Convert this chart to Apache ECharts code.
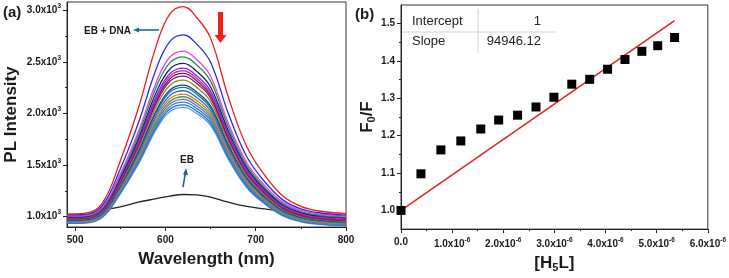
<!DOCTYPE html>
<html>
<head>
<meta charset="utf-8">
<script src="https://cdn.jsdelivr.net/npm/echarts@6/dist/echarts.min.js"></script>
<style>
html,body{margin:0;padding:0;background:#fff;}
#chart{width:729px;height:278px;}
</style>
</head>
<body>
<div id="chart"></div>
<script>
// (a) emission spectra, EB alone and EB + DNA with increasing H5L
var wavelengths = [491, 510, 530, 550, 570, 590, 605, 620, 635, 650, 670, 690, 710, 730, 750, 770, 800];
var ebOnly = [990, 1000, 1060, 1095, 1140, 1175, 1200, 1215, 1212, 1190, 1140, 1100, 1075, 1050, 1030, 1010, 990];
var ebDnaSpectra = [
  [1026, 1032, 1130, 1540, 2050, 2660, 2965, 3035, 2925, 2730, 2150, 1680, 1400, 1200, 1100, 1055, 1030],
  [1018, 1021, 1107, 1463, 1907, 2436, 2699, 2762, 2669, 2496, 1992, 1583, 1338, 1163, 1076, 1038, 1015],
  [1010, 1013, 1091, 1416, 1823, 2306, 2547, 2604, 2519, 2361, 1899, 1525, 1301, 1141, 1061, 1026, 1005],
  [1003, 1006, 1082, 1397, 1791, 2260, 2493, 2549, 2467, 2313, 1864, 1500, 1282, 1127, 1049, 1015, 995],
  [997, 1000, 1073, 1376, 1756, 2207, 2431, 2485, 2406, 2257, 1825, 1475, 1265, 1115, 1040, 1007, 988],
  [992, 995, 1066, 1361, 1730, 2168, 2387, 2439, 2362, 2218, 1796, 1456, 1252, 1106, 1033, 1001, 982],
  [987, 990, 1060, 1351, 1714, 2146, 2362, 2413, 2337, 2194, 1779, 1442, 1241, 1097, 1025, 994, 975],
  [982, 985, 1054, 1341, 1699, 2125, 2337, 2388, 2313, 2172, 1762, 1430, 1231, 1089, 1018, 986, 968],
  [978, 981, 1049, 1331, 1684, 2103, 2312, 2362, 2288, 2149, 1745, 1417, 1221, 1081, 1011, 980, 962],
  [973, 976, 1042, 1317, 1662, 2071, 2274, 2323, 2250, 2115, 1720, 1400, 1208, 1071, 1003, 973, 955],
  [968, 971, 1035, 1301, 1635, 2031, 2228, 2275, 2205, 2074, 1691, 1381, 1195, 1063, 996, 967, 950],
  [963, 966, 1029, 1292, 1621, 2012, 2207, 2253, 2184, 2054, 1676, 1370, 1187, 1056, 991, 962, 945],
  [958, 961, 1022, 1280, 1602, 1984, 2175, 2220, 2152, 2025, 1656, 1356, 1177, 1049, 985, 957, 940],
  [954, 956, 1017, 1269, 1583, 1957, 2144, 2188, 2122, 1998, 1635, 1342, 1167, 1042, 979, 951, 935],
  [950, 952, 1012, 1259, 1568, 1935, 2118, 2162, 2097, 1975, 1619, 1330, 1158, 1035, 973, 946, 930],
  [946, 948, 1007, 1249, 1553, 1913, 2093, 2136, 2072, 1952, 1602, 1319, 1149, 1028, 967, 941, 925],
  [942, 944, 1002, 1240, 1538, 1892, 2068, 2110, 2047, 1929, 1585, 1307, 1140, 1021, 962, 935, 920],
  [938, 940, 996, 1230, 1522, 1870, 2043, 2084, 2022, 1906, 1568, 1295, 1131, 1014, 956, 930, 915],
  [935, 937, 992, 1222, 1508, 1849, 2019, 2059, 1998, 1884, 1552, 1283, 1123, 1008, 950, 925, 910]
];
var spectraColors = ['#f01a1a', '#2a2ae6', '#f03cf0', '#139a3a', '#1a1a80', '#7b2ee0', '#c21fc2', '#8b1a2a', '#7a1a8a',
  '#8a8a10', '#1f3fb0', '#118080', '#2f6fd0', '#e07a1a', '#2aa84a', '#b04ae0', '#10a0a0', '#3a5ad8', '#4aa6d8'];
var aXTicks = [500, 600, 700, 800];
var aXMinor = [550, 650, 750];
var aYTicks = [1000, 1500, 2000, 2500, 3000];
var aYMinor = [1250, 1750, 2250, 2750];

// (b) Stern-Volmer plot
var h5lConc = [0, 0.39e-6, 0.78e-6, 1.17e-6, 1.56e-6, 1.91e-6, 2.28e-6, 2.64e-6, 2.99e-6, 3.34e-6, 3.69e-6, 4.04e-6, 4.38e-6, 4.71e-6, 5.02e-6, 5.35e-6];
var f0OverF = [1.000, 1.098, 1.162, 1.186, 1.218, 1.242, 1.255, 1.277, 1.303, 1.338, 1.351, 1.378, 1.404, 1.426, 1.441, 1.463];
var fitX = [0, 5.35e-6];
var fitY = [1, 1.508];
var bXTicks = [0, 1e-6, 2e-6, 3e-6, 4e-6, 5e-6, 6e-6];
var bXMinor = [0.5e-6, 1.5e-6, 2.5e-6, 3.5e-6, 4.5e-6, 5.5e-6];
var bYTicks = [1.0, 1.1, 1.2, 1.3, 1.4, 1.5];
var bYMinor = [1.05, 1.15, 1.25, 1.35, 1.45];

var FONT = '"Liberation Sans", Arial, sans-serif';
var INK = '#1a1a1a';

function pairs(xs, ys) {
  return xs.map(function (x, i) { return [x, ys[i]]; });
}

var labelRich = {
  m: {fontSize: 10, fontWeight: 'bold', color: INK, fontFamily: FONT},
  s: {fontSize: 6.5, fontWeight: 'bold', color: INK, fontFamily: FONT, padding: [0, 0, 8, 0]}
};

function mainAxis(grid, pos, min, max, ticks, fmt, extra) {
  var ax = {
    type: 'value', gridIndex: grid, position: pos, min: min, max: max,
    splitLine: {show: false},
    axisLine: {show: true, lineStyle: {color: '#222', width: 1}},
    axisTick: {show: true, inside: false, length: 4, customValues: ticks, lineStyle: {color: '#222'}},
    axisLabel: {show: true, customValues: ticks, formatter: fmt, margin: pos === 'left' ? 6 : 8,
      fontSize: 10, fontWeight: 'bold', color: INK, fontFamily: FONT, rich: labelRich}
  };
  for (var k in extra) ax[k] = extra[k];
  return ax;
}
function minorAxis(grid, pos, min, max, ticks) {
  return {
    type: 'value', gridIndex: grid, position: pos, min: min, max: max,
    splitLine: {show: false},
    axisLine: {show: false},
    axisLabel: {show: false},
    axisTick: {show: true, length: 2, customValues: ticks, lineStyle: {color: '#222'}}
  };
}

var titleStyle = {fontSize: 17, fontWeight: 'bold', color: INK, fontFamily: FONT,
  rich: {
    t: {fontSize: 17, fontWeight: 'bold', color: INK, fontFamily: FONT},
    sub: {fontSize: 11, fontWeight: 'bold', color: INK, fontFamily: FONT, padding: [9, 0, 0, 0]}
  }};

var series = [{
  name: 'EB', type: 'line', xAxisIndex: 0, yAxisIndex: 0,
  data: pairs(wavelengths, ebOnly), smooth: 0.4, showSymbol: false,
  lineStyle: {color: '#222', width: 1.3}, z: 1
}];
for (var i = ebDnaSpectra.length - 1; i >= 0; i--) {
  series.push({
    name: 'EB+DNA ' + (i + 1), type: 'line', xAxisIndex: 0, yAxisIndex: 0,
    data: pairs(wavelengths, ebDnaSpectra[i]), smooth: 0.4, showSymbol: false,
    lineStyle: {color: spectraColors[i], width: 1.3}, z: 2
  });
}
series.push({
  name: 'fit', type: 'line', xAxisIndex: 2, yAxisIndex: 2,
  data: pairs(fitX, fitY), showSymbol: false, symbol: 'none',
  lineStyle: {color: '#e82020', width: 1.5}, z: 2
});
series.push({
  name: 'F0/F', type: 'scatter', xAxisIndex: 2, yAxisIndex: 2,
  data: pairs(h5lConc, f0OverF), symbol: 'rect', symbolSize: 9,
  itemStyle: {color: '#000', opacity: 1}, z: 3
});

var myChart = echarts.init(document.getElementById('chart'), null, {renderer: 'canvas'});
var option = {
  backgroundColor: '#fff',
  animation: false,
  grid: [
    {left: 67, top: 2, width: 279, height: 225, show: true, borderColor: '#333', borderWidth: 1, containLabel: false},
    {left: 401, top: 5, width: 307, height: 225, show: true, borderColor: '#333', borderWidth: 1, containLabel: false}
  ],
  xAxis: [
    mainAxis(0, 'bottom', 491, 800, aXTicks, function (v) { return '{m|' + v + '}'; },
      {name: 'Wavelength (nm)', nameLocation: 'middle', nameGap: 24, nameTextStyle: titleStyle}),
    minorAxis(0, 'bottom', 491, 800, aXMinor),
    mainAxis(1, 'bottom', 0, 6e-6, bXTicks, function (v) {
      if (v === 0) return '{m|0.0}';
      return '{m|' + (v * 1e6).toFixed(1) + 'x10}{s|-6}';
    }, {name: '{t|[H}{sub|5}{t|L]}', nameLocation: 'middle', nameGap: 21, nameTextStyle: titleStyle}),
    minorAxis(1, 'bottom', 0, 6e-6, bXMinor)
  ],
  yAxis: [
    mainAxis(0, 'left', 900, 3080, aYTicks, function (v) {
      return '{m|' + (v / 1000).toFixed(1) + 'x10}{s|3}';
    }, {name: 'PL Intensity', nameLocation: 'middle', nameGap: 47, nameTextStyle: titleStyle}),
    minorAxis(0, 'left', 900, 3080, aYMinor),
    mainAxis(1, 'left', 0.95, 1.55, bYTicks, function (v) { return '{m|' + v.toFixed(1) + '}'; },
      {name: '{t|F}{sub|0}{t|/F}', nameLocation: 'middle', nameGap: 24, nameTextStyle: titleStyle}),
    minorAxis(1, 'left', 0.95, 1.55, bYMinor)
  ],
  graphic: [
    {type: 'text', left: 3, top: 5, style: {text: '(a)', font: 'bold 15px ' + FONT, fill: INK}},
    {type: 'text', left: 355, top: 7, style: {text: '(b)', font: 'bold 15px ' + FONT, fill: INK}},
    {type: 'text', left: 84, top: 26, style: {text: 'EB + DNA', font: 'bold 10px ' + FONT, fill: INK}},
    {type: 'line', shape: {x1: 159, y1: 30, x2: 138, y2: 30}, style: {stroke: '#1e6a87', lineWidth: 1.6}},
    {type: 'polygon', shape: {points: [[133, 30], [139, 27.5], [139, 32.5]]}, style: {fill: '#1e6a87'}},
    {type: 'text', left: 180, top: 155, style: {text: 'EB', font: 'bold 10px ' + FONT, fill: INK}},
    {type: 'line', shape: {x1: 183, y1: 187, x2: 185.2, y2: 174}, style: {stroke: '#1e6a87', lineWidth: 1.6}},
    {type: 'polygon', shape: {points: [[186, 168], [183, 174.5], [188, 175.2]]}, style: {fill: '#1e6a87'}},
    {type: 'polygon', shape: {points: [[218, 12], [223, 12], [223, 35], [226.5, 35], [220.5, 43], [214.5, 35], [218, 35]]},
      style: {fill: '#ec2418'}},
    // fit results table
    {type: 'line', shape: {x1: 478, y1: 9, x2: 478, y2: 53}, style: {stroke: '#d4d4d4', lineWidth: 1}},
    {type: 'line', shape: {x1: 402, y1: 32, x2: 556, y2: 32}, style: {stroke: '#d4d4d4', lineWidth: 1}},
    {type: 'text', left: 412, top: 15, style: {text: 'Intercept', font: '13px ' + FONT, fill: '#222'}},
    {type: 'text', left: 412, top: 35, style: {text: 'Slope', font: '13px ' + FONT, fill: '#222'}},
    {type: 'text', right: 188, top: 15, style: {text: '1', font: '13px ' + FONT, fill: '#222'}},
    {type: 'text', right: 188, top: 35, style: {text: '94946.12', font: '13px ' + FONT, fill: '#222'}}
  ],
  series: series
};
myChart.setOption(option);
</script>
</body>
</html>
